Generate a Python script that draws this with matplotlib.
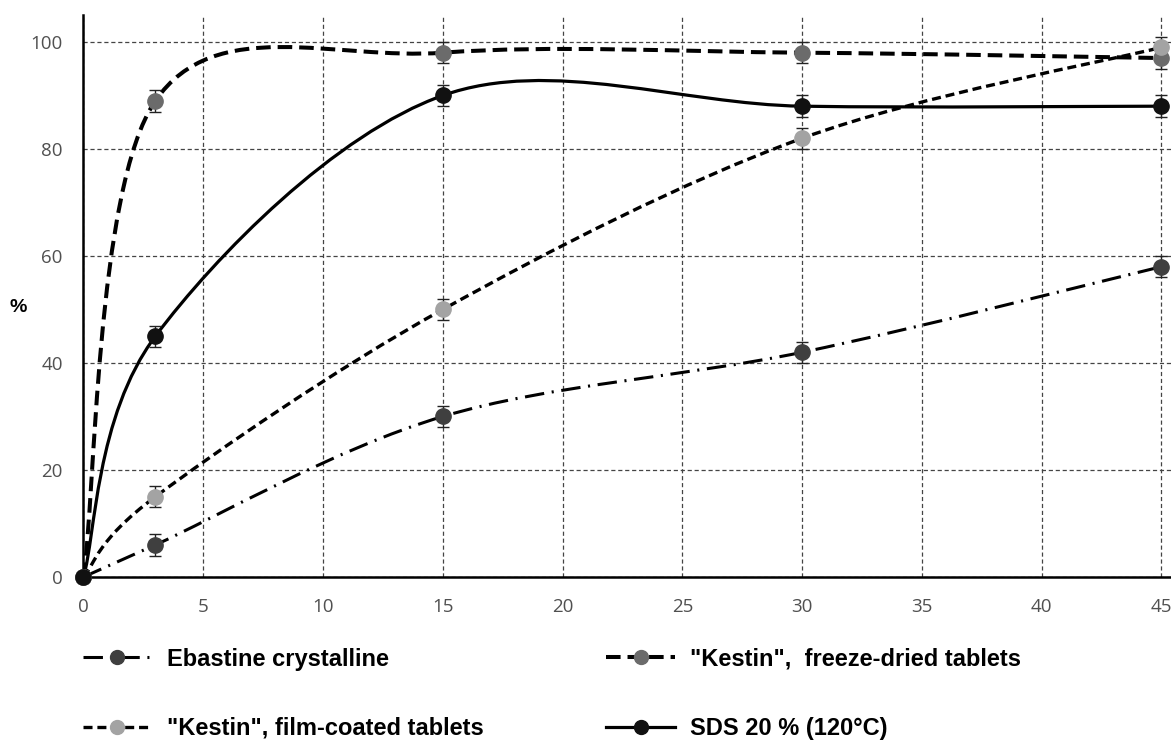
import matplotlib
matplotlib.use("Agg")
import matplotlib.pyplot as plt
from matplotlib.path import Path
from matplotlib.patches import PathPatch
from matplotlib.lines import Line2D

plt.rcParams["lines.scale_dashes"] = False

# ------------------------------------------------------------------
# Dissolution data (time, min -> % released)
# ------------------------------------------------------------------
time_min = [0, 3, 15, 30, 45]

ebastine = [0, 6, 30, 42, 58]
freeze_dried = [0, 89, 98, 98, 97]
film_coated = [0, 15, 50, 82, 99]
sds_20 = [0, 45, 90, 88, 88]

err = [0, 2, 2, 2, 2]

labels = [
    "Ebastine crystalline",
    '"Kestin",  freeze-dried tablets',
    '"Kestin", film-coated tablets',
    "SDS 20 % (120°C)",
]

x_ticks = [0, 5, 10, 15, 20, 25, 30, 35, 40, 45]
y_ticks = [0, 20, 40, 60, 80, 100]


def smooth_path(xs, ys):
    """
    Excel-like smoothed line: cubic bezier segments with
    Catmull-Rom style control points.
    """
    pts = list(zip(xs, ys))
    verts = [pts[0]]
    codes = [Path.MOVETO]
    n = len(pts)
    for i in range(n - 1):
        p0 = pts[i - 1] if i > 0 else pts[i]
        p1 = pts[i]
        p2 = pts[i + 1]
        p3 = pts[i + 2] if i + 2 < n else pts[i + 1]
        c1 = (p1[0] + (p2[0] - p0[0]) / 6, p1[1] + (p2[1] - p0[1]) / 6)
        c2 = (p2[0] - (p3[0] - p1[0]) / 6, p2[1] - (p3[1] - p1[1]) / 6)
        verts += [c1, c2, p2]
        codes += [Path.CURVE4] * 3
    return Path(verts, codes)


series = [
    (ebastine, "#3f3f3f", (0, (14, 5.5, 1.5, 5.5)), 2.2),
    (freeze_dried, "#6b6b6b", (0, (10.5, 5)), 2.9),
    (film_coated, "#a3a3a3", (0, (6.5, 3.5)), 2.4),
    (sds_20, "#111111", "solid", 2.3),
]

fig = plt.figure(figsize=(11.71, 7.47), dpi=100)
ax = fig.add_axes([0.0713, 0.2276, 0.9287, 0.752])

for ys, col, ls, lw in series:
    patch = PathPatch(smooth_path(time_min, ys), facecolor="none",
                      edgecolor="black", lw=lw, linestyle=ls, zorder=3,
                      capstyle="butt")
    ax.add_patch(patch)

for ys, col, ls, lw in series:
    ax.errorbar(time_min, ys, yerr=err, fmt="o", color=col, markersize=11,
                markeredgecolor=col, ecolor="#222222", elinewidth=1,
                capsize=4, capthick=1, zorder=4, clip_on=False)

ax.set_xlim(0, 45.4)
ax.set_ylim(0, 105)
ax.set_xticks(x_ticks)
ax.set_yticks(y_ticks)
ax.tick_params(length=0, labelsize=13.5, labelcolor="#505050", pad=15)
for lab in ax.get_xticklabels() + ax.get_yticklabels():
    lab.set_family("Open Sans")

ax.grid(True, color="#444444", linestyle=(0, (3, 2)), linewidth=0.9)
ax.set_axisbelow(True)
for side in ["top", "right"]:
    ax.spines[side].set_visible(False)
for side in ["left", "bottom"]:
    ax.spines[side].set_linewidth(1.8)
    ax.spines[side].set_zorder(2.5)

fig.text(0.0154, 0.589, "%", fontsize=14, fontweight="bold",
         family="Liberation Sans", ha="center", va="center")

handles = []
for ys, col, ls, lw in series:
    handles.append(Line2D([], [], color="black", linestyle=ls, lw=lw,
                          marker="o", markersize=10, markerfacecolor=col,
                          markeredgecolor=col))

order = [0, 2, 1, 3]
fig.legend([handles[i] for i in order], [labels[i] for i in order],
           ncol=2, loc="upper left", bbox_to_anchor=(0.0709, 0.133),
           frameon=False, borderpad=0, borderaxespad=0,
           handlelength=2.9, handletextpad=0.65,
           columnspacing=5.2, labelspacing=1.96,
           prop={"family": "Liberation Sans", "weight": "bold", "size": 17})

fig.savefig("out.png", dpi=100)
